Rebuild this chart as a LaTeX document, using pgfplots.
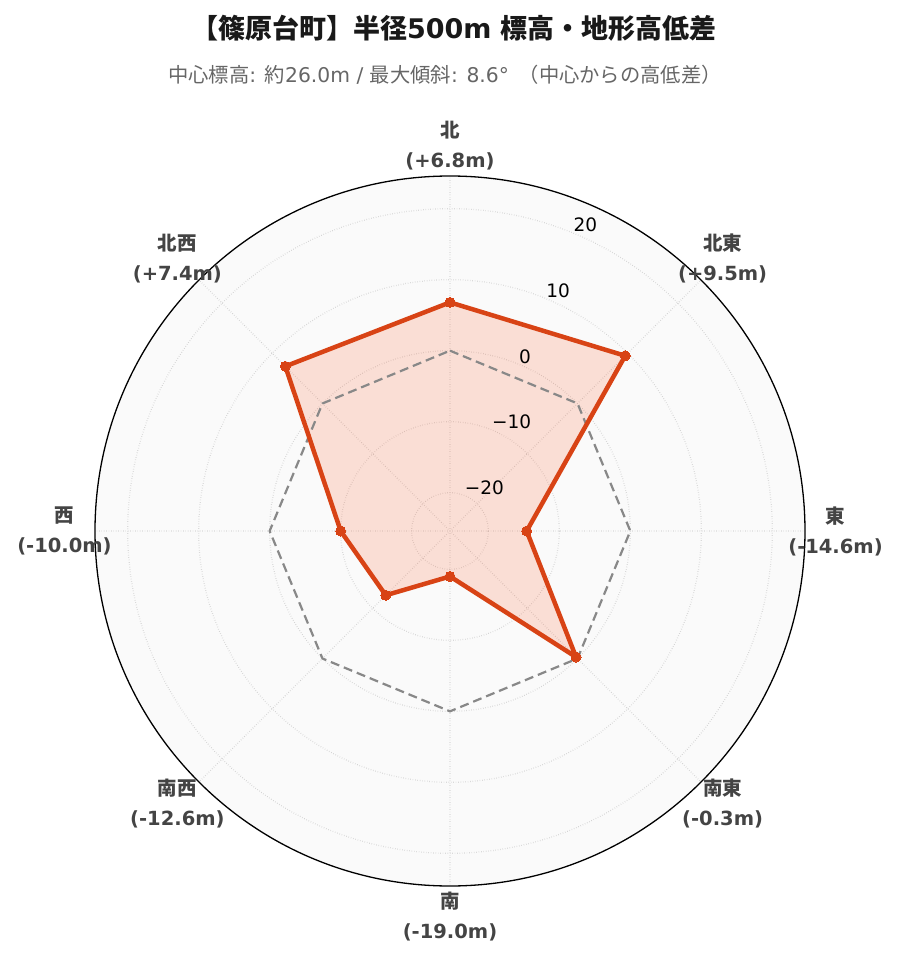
\documentclass[border=0pt]{standalone}
\usepackage{fontspec}
\setmainfont{DejaVu Sans}
\newfontfamily\cjk{Noto Sans CJK JP}
\usepackage{pgfplots}
\usepackage{pgfplotstable}
\pgfplotsset{compat=1.18}
\usepgfplotslibrary{polar}
\definecolor{lineC}{HTML}{D84315}
\definecolor{fillC}{HTML}{FF5722}
\definecolor{bgC}{HTML}{FAFAFA}
\definecolor{gridC}{HTML}{C8C8C8}
\definecolor{labC}{HTML}{444444}
\definecolor{subC}{HTML}{666666}
\definecolor{zeroC}{HTML}{888888}

% angle (deg, counter-clockwise from east), elevation difference (m)
\pgfplotstableread{
angle value
90    6.8
45    9.5
0    -14.6
-45  -0.3
-90  -19.0
-135 -12.6
-180 -10.0
-225  7.4
-270  6.8
}\profile
\pgfplotstableread{
angle value
90    0
45    0
0     0
-45   0
-90   0
-135  0
-180  0
-225  0
-270  0
}\zeroline

\begin{document}
\begin{tikzpicture}
\path[use as bounding box] (0,0) rectangle (899pt,962pt);
\fill[bgC] (450pt,431pt) circle (355pt);
\node[font=\bfseries\fontsize{27}{30}\selectfont, text=black!90] at (454pt,934pt)
  {{\cjk 【篠原台町】半径}500m {\cjk 標高・地形高低差}};
\node[font=\fontsize{20.3}{24}\selectfont, text=subC] at (445pt,887pt)
  {{\cjk 中心標高}: {\cjk 約}26.0m / {\cjk 最大傾斜}: 8.6° \,{\cjk （中心からの高低差）}};
\begin{polaraxis}[
  width=710pt, height=710pt, scale only axis,
  at={(450pt,431pt)}, anchor=center,
  ymin=0, ymax=50,
  y filter/.expression={y+25.4},
  xtick={0,45,...,315}, xticklabels={},
  ytick={5.4,15.4,25.4,35.4,45.4}, yticklabels={},
  major tick length=0pt,
  grid=major,
  major grid style={gridC, dotted, line width=1.2pt},
  x axis line style={black, line width=1.3pt},
  y axis line style={draw=none},
  clip=false,
]
\addplot[draw=none, fill=fillC, fill opacity=0.17, forget plot] table[x=angle,y=value]{\profile};
\addplot[zeroC, dash pattern=on 9pt off 5pt, line width=2.2pt] table[x=angle,y=value]{\zeroline};
\addplot[lineC, line width=4.5pt, line join=round, mark=*, mark size=5pt, mark options={solid, fill=lineC, draw=lineC, line width=0pt}] table[x=angle,y=value]{\profile};

\foreach \v/\t in {5.4/{−20},15.4/{−10},25.4/{0},35.4/{10},45.4/{20}} {
  \edef\tmp{\noexpand\node[anchor=west, yshift=8pt, inner sep=0pt, font=\noexpand\fontsize{18.5}{20}\noexpand\selectfont] at (axis cs:67.5,\v) {\t};}
  \tmp
}
\tikzset{dirlab/.style={align=center, font=\bfseries\fontsize{19.5}{30}\selectfont, text=labC}}
\node[dirlab] at (axis cs:90,54.3) {{\cjk 北}\\(+6.8m)};
\node[dirlab] at (axis cs:45,54.3) {{\cjk 北東}\\(+9.5m)};
\node[dirlab] at (axis cs:0,54.3) {{\cjk 東}\\(-14.6m)};
\node[dirlab] at (axis cs:-45,54.3) {{\cjk 南東}\\(-0.3m)};
\node[dirlab] at (axis cs:-90,54.3) {{\cjk 南}\\(-19.0m)};
\node[dirlab] at (axis cs:-135,54.3) {{\cjk 南西}\\(-12.6m)};
\node[dirlab] at (axis cs:180,54.3) {{\cjk 西}\\(-10.0m)};
\node[dirlab] at (axis cs:135,54.3) {{\cjk 北西}\\(+7.4m)};
\end{polaraxis}
\end{tikzpicture}
\end{document}
